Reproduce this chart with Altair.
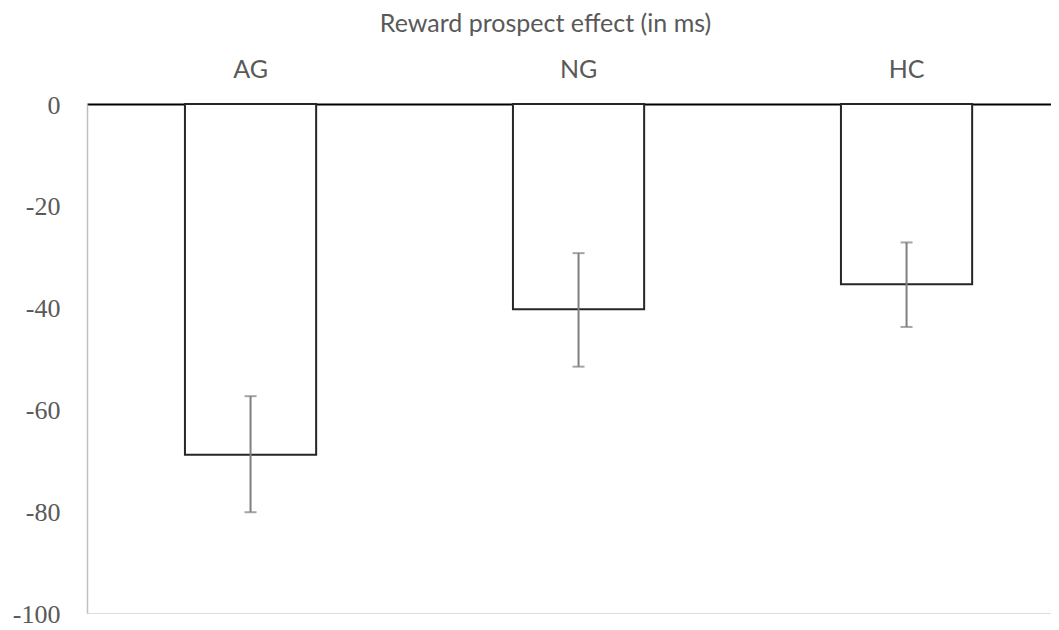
import altair as alt
import pandas as pd

groups = ["AG", "NG", "HC"]
means = [-68.9, -40.3, -35.4]
err_low = [-80.2, -51.6, -43.8]
err_high = [-57.4, -29.3, -27.2]
y_ticks = [0, -20, -40, -60, -80, -100]

df = pd.DataFrame({"group": groups, "mean": means, "lo": err_low, "hi": err_high})

xscale = alt.Scale(domain=groups, paddingInner=0.6, paddingOuter=0.2695, align=0.554)
yscale = alt.Scale(domain=[-100, 0], nice=False)

x_axis = alt.Axis(
    orient="top", title="Reward prospect effect (in ms)", labelAngle=0, ticks=False,
    domainColor="#000000", domainWidth=2,
    labelFont="Lato", labelFontSize=25, labelColor="#595959", labelPadding=22,
    titleFont="Lato", titleFontSize=25, titleFontWeight="normal", titleColor="#595959",
    titlePadding=21, titleX=458, titleAlign="center",
)
y_axis = alt.Axis(
    values=y_ticks, grid=False, ticks=False, domainColor="#bfbfbf", domainWidth=1.5,
    labelFont="Liberation Serif", labelFontSize=26, labelColor="#595959", labelPadding=27,
    labelOffset=1,
    labelExpr="datum.value == 0 ? '0' : '-' + format(abs(datum.value), 'd')",
    title=None,
)

base = alt.Chart(df)

bars = base.mark_bar(fill="white", stroke="#262626", strokeWidth=2).encode(
    x=alt.X("group:N", sort=groups, scale=xscale, axis=x_axis),
    y=alt.Y("mean:Q", scale=yscale, axis=y_axis),
)

rules = base.mark_rule(color="#7f7f7f", strokeWidth=2).encode(
    x=alt.X("group:N", sort=groups, scale=xscale),
    y=alt.Y("lo:Q", scale=yscale),
    y2="hi:Q",
)

caps_lo = base.mark_tick(color="#7f7f7f", orient="horizontal", size=12, thickness=2).encode(
    x=alt.X("group:N", sort=groups, scale=xscale),
    y=alt.Y("lo:Q", scale=yscale),
)
caps_hi = base.mark_tick(color="#7f7f7f", orient="horizontal", size=12, thickness=2).encode(
    x=alt.X("group:N", sort=groups, scale=xscale),
    y=alt.Y("hi:Q", scale=yscale),
)

chart = alt.layer(bars, rules, caps_lo, caps_hi).properties(
    width=964, height=509,
    autosize=alt.AutoSizeParams(type="none"),
    padding={"left": 79, "top": 96, "right": 0, "bottom": 16},
).configure_view(stroke=None).configure(background="white")

chart.save("out.html", embed_options={"renderer": "svg", "actions": False})
